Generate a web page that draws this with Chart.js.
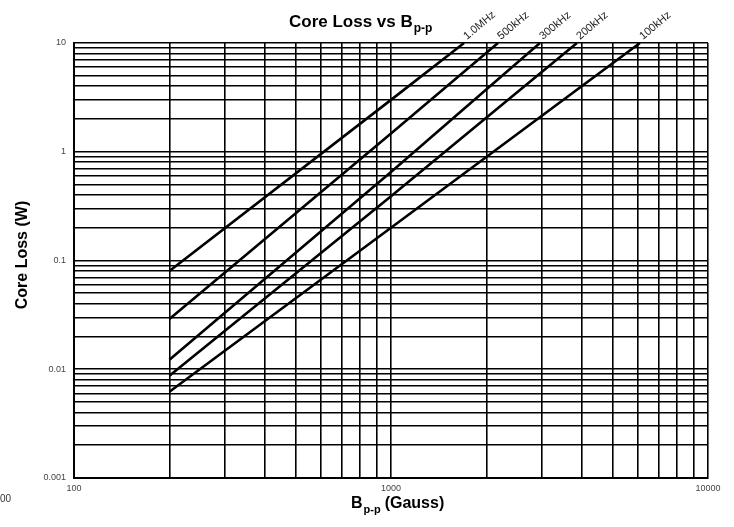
<!DOCTYPE html>
<html>
<head>
<meta charset="utf-8">
<script src="https://cdn.jsdelivr.net/npm/chart.js@4"></script>
<style>
  html, body { margin: 0; padding: 0; background: #fff; }
  canvas { display: block; }
</style>
</head>
<body>
<canvas id="lossChart" width="734" height="527"></canvas>
<script>
// Core loss curves (B in Gauss, loss in W)
const freqLabels = ['1.0MHz', '500kHz', '300kHz', '200kHz', '100kHz'];

const bMHz1 = [200, 1000, 1700];
const lossMHz1 = [0.08, 3.0, 10];

const bK500 = [200, 1000, 2175];
const lossK500 = [0.029, 1.47, 10];

const bK300 = [200, 1000, 2950];
const lossK300 = [0.0122, 0.65, 10];

const bK200 = [200, 1000, 3860];
const lossK200 = [0.0087, 0.39, 10];

const bK100 = [200, 1000, 6100];
const lossK100 = [0.0062, 0.2, 10];

const xDecades = [100, 1000];       // grid 1..9 in each decade, up to 10000
const yDecades = [0.001, 0.01, 0.1, 1];
const xMax = 10000;
const yMax = 10;

const seriesB = [bMHz1, bK500, bK300, bK200, bK100];
const seriesLoss = [lossMHz1, lossK500, lossK300, lossK200, lossK100];

// all grid values: 1..9 x each decade plus the top
function gridValues(decades, top) {
    const vals = [];
    decades.forEach(d => {
        for (let k = 1; k < 10; k++) vals.push(+(k * d).toPrecision(6));
    });
    vals.push(top);
    return vals;
}

function isDecade(v) {
    const l = Math.log10(v);
    return Math.abs(l - Math.round(l)) < 1e-6;
}

const datasets = freqLabels.map((lbl, i) => ({
    label: lbl,
    data: seriesB[i].map((b, j) => ({ x: b, y: seriesLoss[i][j] })),
    borderColor: '#000',
    borderWidth: 2.6,
    pointRadius: 0,
    showLine: true,
    tension: 0,
    fill: false
}));

const FONT = '"Liberation Sans", Arial, sans-serif';

// titles and curve labels drawn on top
const textPlugin = {
    id: 'textPlugin',
    afterDraw(chart) {
        const ctx = chart.ctx;
        const xs = chart.scales.x, ys = chart.scales.y;
        ctx.save();
        ctx.fillStyle = '#000';
        ctx.textBaseline = 'alphabetic';
        ctx.textAlign = 'left';

        // main title
        ctx.font = 'bold 17px ' + FONT;
        let x = 289;
        ctx.fillText('Core Loss vs B', x, 27);
        x += ctx.measureText('Core Loss vs B').width;
        ctx.font = 'bold 12px ' + FONT;
        ctx.fillText('p-p', x + 1, 32);

        // x axis title
        ctx.font = 'bold 16px ' + FONT;
        x = 351;
        ctx.fillText('B', x, 508);
        x += ctx.measureText('B').width;
        ctx.font = 'bold 11px ' + FONT;
        ctx.fillText('p-p', x + 1, 513);
        x += ctx.measureText('p-p').width + 5;
        ctx.font = 'bold 16px ' + FONT;
        ctx.fillText('(Gauss)', x, 508);

        // y axis title
        ctx.save();
        ctx.translate(27, 255);
        ctx.rotate(-Math.PI / 2);
        ctx.textAlign = 'center';
        ctx.font = 'bold 16px ' + FONT;
        ctx.fillText('Core Loss (W)', 0, 0);
        ctx.restore();

        // curve labels at the top end of each line
        ctx.font = '11px ' + FONT;
        ctx.fillStyle = '#222';
        freqLabels.forEach((lbl, i) => {
            const b = seriesB[i], l = seriesLoss[i];
            const px = xs.getPixelForValue(b[b.length - 1]);
            const py = ys.getPixelForValue(l[l.length - 1]);
            ctx.save();
            ctx.translate(px + 3, py - 3);
            ctx.rotate(-40 * Math.PI / 180);
            ctx.fillText(lbl, 0, 0);
            ctx.restore();
        });

        // stray clipped label at the lower left
        ctx.font = '10px ' + FONT;
        ctx.fillStyle = '#333';
        ctx.textAlign = 'right';
        ctx.fillText('100', 11, 502);
        ctx.restore();
    }
};

const tickFont = { family: FONT, size: 9 };

new Chart(document.getElementById('lossChart').getContext('2d'), {
    type: 'scatter',
    data: { datasets },
    options: {
        responsive: false,
        animation: false,
        layout: { padding: { left: 0, right: 26, top: 43, bottom: 0 } },
        plugins: {
            legend: { display: false },
            title: { display: false },
            tooltip: { enabled: false }
        },
        scales: {
            x: {
                type: 'logarithmic',
                min: xDecades[0],
                max: xMax,
                afterBuildTicks: s => { s.ticks = gridValues(xDecades, xMax).map(v => ({ value: v })); },
                afterFit: s => { s.height = 49; s.paddingLeft = 0; s.paddingRight = 0; },
                ticks: {
                    autoSkip: false,
                    maxRotation: 0,
                    padding: 5,
                    color: '#444',
                    font: tickFont,
                    callback: v => isDecade(v) ? String(v) : ''
                },
                grid: { color: '#000', lineWidth: 1.6, drawTicks: false },
                border: { color: '#000', width: 2 }
            },
            y: {
                type: 'logarithmic',
                min: yDecades[0],
                max: yMax,
                afterBuildTicks: s => { s.ticks = gridValues(yDecades, yMax).map(v => ({ value: v })); },
                afterFit: s => { s.width = 74; s.paddingTop = 0; s.paddingBottom = 0; },
                ticks: {
                    autoSkip: false,
                    padding: 8,
                    color: '#444',
                    font: tickFont,
                    callback: v => isDecade(v) ? String(v) : ''
                },
                grid: { color: '#000', lineWidth: 1.6, drawTicks: false },
                border: { color: '#000', width: 2 }
            }
        }
    },
    plugins: [textPlugin]
});
</script>
</body>
</html>
